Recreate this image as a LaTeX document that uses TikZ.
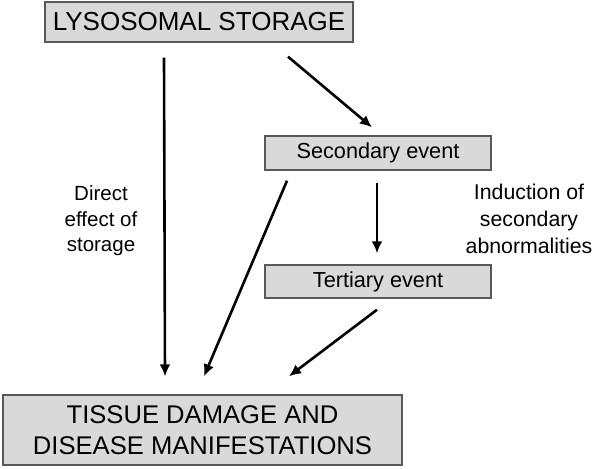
\documentclass[tikz,border=0pt]{standalone}
\usepackage{fontspec}
\setmainfont{Liberation Sans}
\usetikzlibrary{arrows.meta}
\definecolor{boxfill}{HTML}{D9D9D9}
\definecolor{boxline}{HTML}{595959}
\begin{document}
\begin{tikzpicture}[x=1pt,y=-1pt,
  box/.style={draw=boxline, line width=1.4pt, fill=boxfill, inner sep=0pt, anchor=center, align=center},
  arr/.style={line width=2.6pt, -{Latex[length=12pt,width=11pt]}},
  lbl/.style={align=center, inner sep=0pt, anchor=center}]
\useasboundingbox (0,0) rectangle (596,468);
\node[box, minimum width=308pt, minimum height=40pt, font=\fontsize{26}{30}\selectfont] (top) at (199,22) {LYSOSOMAL STORAGE};
\node[box, minimum width=226pt, minimum height=34pt, font=\fontsize{21.7}{26}\selectfont] (sec) at (378,153) {Secondary event};
\node[box, minimum width=226pt, minimum height=33pt, font=\fontsize{21.7}{26}\selectfont] (ter) at (378,281.5) {Tertiary event};
\node[box, minimum width=399pt, minimum height=70pt, font=\fontsize{25.6}{31}\selectfont] (bot) at (202.5,430) {TISSUE DAMAGE AND\\DISEASE MANIFESTATIONS};
\node[lbl, font=\fontsize{20.5}{25.5}\selectfont] (lab1) at (101,221) {Direct\\effect of\\storage};
\node[lbl, font=\fontsize{21.3}{27}\selectfont] (lab2) at (529,219) {Induction of\\secondary\\abnormalities};
\coordinate (a1s) at ([xshift=-35pt,yshift=-15pt]top.south);
\coordinate (a1e) at ([xshift=-37.5pt,yshift=18pt]bot.north);
\coordinate (a2s) at ([xshift=89pt,yshift=-14pt]top.south);
\coordinate (a2e) at ([xshift=-6pt,yshift=8pt]sec.north);
\coordinate (a3s) at ([xshift=-91pt,yshift=-10pt]sec.south);
\coordinate (a3e) at ([xshift=1.5pt,yshift=18pt]bot.north);
\coordinate (a4s) at ([xshift=-1pt,yshift=-12pt]sec.south);
\coordinate (a4e) at ([xshift=-1pt,yshift=11pt]ter.north);
\coordinate (a5s) at ([xshift=-1pt,yshift=-11pt]ter.south);
\coordinate (a5e) at ([xshift=86.5pt,yshift=18pt]bot.north);
\draw[arr] (a1s) -- (a1e);
\draw[arr] (a2s) -- (a2e);
\draw[arr] (a3s) -- (a3e);
\draw[arr] (a4s) -- (a4e);
\draw[arr] (a5s) -- (a5e);
\end{tikzpicture}
\end{document}
